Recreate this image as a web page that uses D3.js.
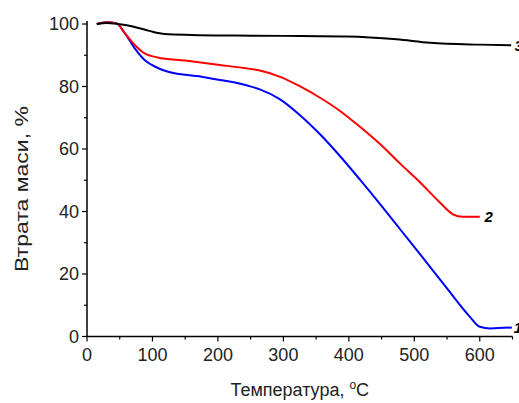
<!DOCTYPE html>
<html>
<head>
<meta charset="utf-8">
<script src="https://cdn.jsdelivr.net/npm/d3@7"></script>
<style>
  body { margin: 0; background: #fff; }
  text { font-family: Arial, "Liberation Sans", sans-serif; }
</style>
</head>
<body>
<svg id="chart" width="519" height="403"></svg>
<script>
// TGA curves
const temp1 = [15, 30, 45, 58, 73, 88, 99, 124, 175, 203, 226, 245, 264, 295, 325, 356, 387, 417, 448, 478, 509, 550, 585, 600, 616, 649];
const mass1 = [100, 100.6, 100.2, 97, 92.2, 88.5, 86.9, 84.7, 83.1, 82.1, 81.3, 80.3, 79.1, 75.9, 70.9, 64.7, 57.6, 50.2, 42.3, 34.4, 26.3, 15.4, 6.3, 3.1, 2.6, 2.9];

const temp2 = [15, 30, 45, 58, 73, 88, 108, 150, 203, 240, 264, 295, 325, 356, 387, 417, 448, 478, 509, 539, 559, 574, 600];
const mass2 = [100, 100.6, 100.2, 97, 93.3, 90.6, 89.3, 88.3, 86.9, 85.9, 85.1, 83.1, 80.1, 76.4, 72.1, 67.1, 61.5, 55.4, 49.3, 42.9, 39.1, 38.3, 38.3];

const temp3 = [15, 30, 47, 70, 95, 119, 160, 226, 300, 397, 473, 524, 600, 648];
const mass3 = [100, 100.3, 100, 99.2, 97.8, 96.8, 96.5, 96.3, 96.2, 96, 95.1, 94, 93.4, 93.2];

const xTicks = [0, 100, 200, 300, 400, 500, 600];
const yTicks = [0, 20, 40, 60, 80, 100];

const series = [
  { id: "1", color: "#0000ff", t: temp1, m: mass1 },
  { id: "2", color: "#ff0000", t: temp2, m: mass2 },
  { id: "3", color: "#000000", t: temp3, m: mass3 }
];

const svg = d3.select("#chart");
const x = d3.scaleLinear().domain([0, 650]).range([87, 512.5]);
const y = d3.scaleLinear().domain([0, 100]).range([336.5, 24]);

const line = d3.line()
  .x(d => x(d[0]))
  .y(d => y(d[1]))
  .curve(d3.curveMonotoneX);

svg.selectAll("path.curve")
  .data(series)
  .join("path")
  .classed("curve", true)
  .attr("fill", "none")
  .attr("stroke", d => d.color)
  .attr("stroke-width", 2)
  .attr("d", d => line(d3.zip(d.t, d.m)));

// x axis
const gx = svg.append("g").attr("transform", `translate(0, ${y(0)})`);
gx.append("line").attr("x1", x(0)).attr("x2", x(650)).attr("stroke", "#000").attr("stroke-width", 1.5);
gx.selectAll("line.minor")
  .data(d3.range(50, 651, 100))
  .join("line")
  .classed("minor", true)
  .attr("x1", d => x(d)).attr("x2", d => x(d))
  .attr("y1", 0).attr("y2", 3)
  .attr("stroke", "#000").attr("stroke-width", 1.2);
gx.selectAll("line.major")
  .data(xTicks)
  .join("line")
  .classed("major", true)
  .attr("x1", d => x(d)).attr("x2", d => x(d))
  .attr("y1", 0).attr("y2", 5)
  .attr("stroke", "#000").attr("stroke-width", 1.2);
gx.selectAll("text")
  .data(xTicks)
  .join("text")
  .attr("x", d => x(d))
  .attr("y", 24)
  .attr("text-anchor", "middle")
  .attr("font-size", 18)
  .attr("fill", "#222")
  .text(d => d);

// y axis
const gy = svg.append("g").attr("transform", `translate(${x(0)}, 0)`);
gy.append("line").attr("y1", y(0)).attr("y2", y(101)).attr("stroke", "#000").attr("stroke-width", 1.5);
gy.selectAll("line.minor")
  .data(d3.range(10, 100, 20))
  .join("line")
  .classed("minor", true)
  .attr("y1", d => y(d)).attr("y2", d => y(d))
  .attr("x1", 0).attr("x2", -3)
  .attr("stroke", "#000").attr("stroke-width", 1.2);
gy.selectAll("line.major")
  .data(yTicks)
  .join("line")
  .classed("major", true)
  .attr("y1", d => y(d)).attr("y2", d => y(d))
  .attr("x1", 0).attr("x2", -5)
  .attr("stroke", "#000").attr("stroke-width", 1.2);
gy.selectAll("text")
  .data(yTicks)
  .join("text")
  .attr("x", -8)
  .attr("y", d => y(d))
  .attr("dy", "0.36em")
  .attr("text-anchor", "end")
  .attr("font-size", 18)
  .attr("fill", "#222")
  .text(d => d);

// axis titles
svg.append("text")
  .attr("transform", `translate(28, 189) rotate(-90)`)
  .attr("text-anchor", "middle")
  .attr("font-size", 19)
  .attr("textLength", 166)
  .attr("lengthAdjust", "spacingAndGlyphs")
  .attr("fill", "#222")
  .text("Втрата маси, %");

const xt = svg.append("text")
  .attr("x", (x(0) + x(650)) / 2)
  .attr("y", 396)
  .attr("text-anchor", "middle")
  .attr("font-size", 18)
  .attr("fill", "#222");
xt.append("tspan").text("Температура, ");
xt.append("tspan").attr("font-size", 12).attr("dy", -7).text("o");
xt.append("tspan").attr("dy", 7).text("C");

// curve numbers
const labels = [
  { id: "1", t: 649, m: 2.9 },
  { id: "2", t: 604, m: 38.3 },
  { id: "3", t: 650, m: 93.2 }
];
svg.selectAll("text.num")
  .data(labels)
  .join("text")
  .classed("num", true)
  .attr("x", d => x(d.t) + 2)
  .attr("y", d => y(d.m))
  .attr("dy", "0.36em")
  .attr("font-size", 15)
  .attr("font-weight", "bold")
  .attr("font-style", "italic")
  .text(d => d.id);
</script>
</body>
</html>
